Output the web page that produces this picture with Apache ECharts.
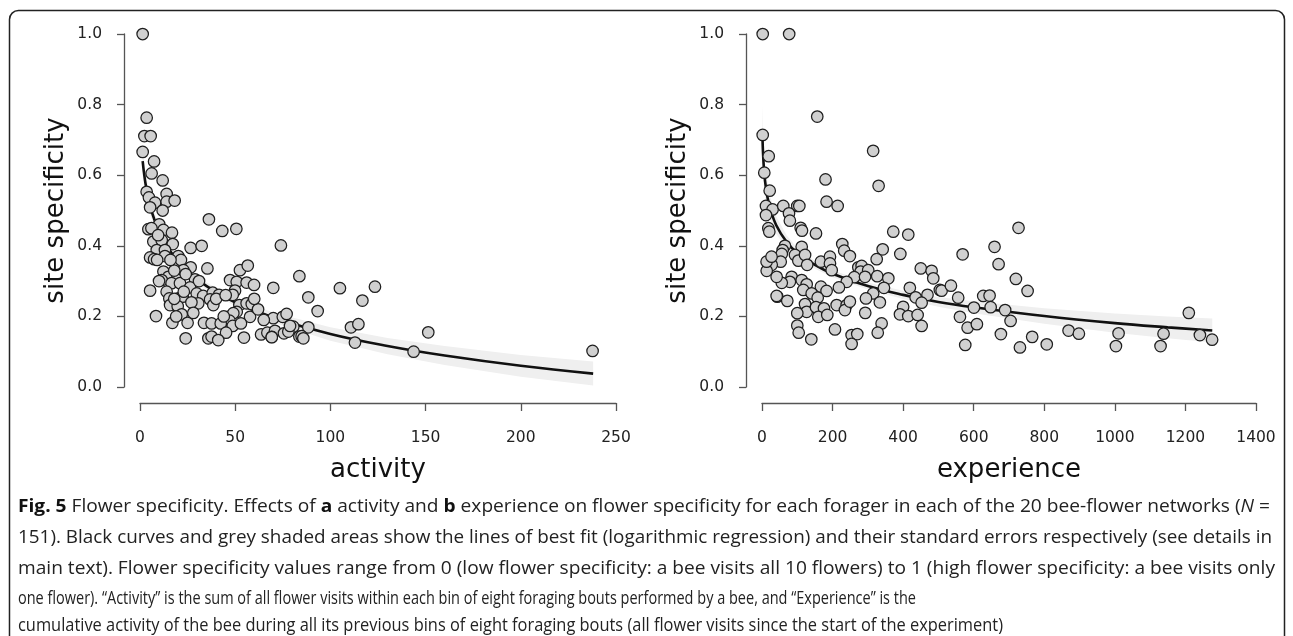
<!DOCTYPE html>
<html><head><meta charset="utf-8">
<script src="https://cdn.jsdelivr.net/npm/echarts@6/dist/echarts.min.js"></script>
<style>html,body{margin:0;padding:0;background:#fff}#c{width:1293px;height:636px}</style>
</head><body><div id="c"></div>
<script>
// ---------- data ----------
const activityPoints = [
 [1.4,1.0],[3.5,0.763],[2.3,0.711],[5.6,0.711],[1.4,0.666],[7.4,0.639],[6.1,0.605],[11.9,0.585],
 [3.5,0.553],[4.7,0.537],[14,0.547],[7.9,0.522],[14,0.525],[18.2,0.528],[5.3,0.509],[11.9,0.5],
 [36.2,0.475],[4.4,0.447],[10.1,0.461],[12.3,0.445],[16.8,0.437],[43.2,0.442],[50.6,0.448],[7,0.412],
 [11.4,0.416],[17.2,0.405],[26.6,0.394],[32.4,0.4],[74,0.401],[8.8,0.388],[13.1,0.388],[5.3,0.367],
 [7.4,0.362],[13.1,0.371],[20.1,0.371],[21.5,0.36],[26.6,0.339],[35.4,0.336],[52.5,0.331],[56.6,0.344],
 [83.7,0.314],[12.3,0.327],[14.9,0.312],[19.6,0.308],[22.8,0.331],[11.4,0.303],[16.6,0.294],[21,0.294],
 [28.9,0.305],[47.3,0.303],[50.8,0.298],[56,0.296],[59.9,0.289],[5.3,0.273],[14,0.27],[26.3,0.282],
 [29.8,0.265],[33.2,0.258],[38.2,0.267],[41.5,0.261],[49.9,0.273],[48.7,0.261],[70,0.281],[15.4,0.251],
 [20.1,0.251],[22.4,0.256],[36.8,0.248],[15.8,0.232],[19.8,0.229],[30.6,0.237],[38.5,0.232],[52.2,0.232],
 [56,0.237],[50.8,0.213],[21.9,0.206],[46.4,0.199],[49,0.209],[57.8,0.199],[70,0.195],[75,0.199],
 [77,0.207],[8.4,0.201],[47,0.188],[17,0.182],[25,0.182],[33.6,0.182],[37.6,0.18],[42.4,0.18],
 [48.7,0.173],[80.5,0.171],[45.2,0.154],[63.6,0.149],[66.9,0.154],[70.9,0.159],[75.6,0.152],[77.9,0.157],
 [83.7,0.143],[24,0.138],[35.9,0.138],[37.6,0.143],[41.1,0.133],[54.6,0.14],[69.2,0.142],[88.4,0.254],
 [93.3,0.215],[105,0.28],[123.4,0.284],[116.8,0.245],[58.7,0.235],[78.8,0.173],[88.4,0.169],[110.8,0.169],
 [114.7,0.178],[151.4,0.155],[69.2,0.141],[84.9,0.144],[85.8,0.138],[112.9,0.126],[143.7,0.1],[237.7,0.102],
 [9,0.36],[18,0.33],[24,0.32],[18,0.25],[27,0.24],[31,0.3],[44,0.2],[62,0.22],[65,0.19],[40,0.25],
 [53,0.18],[6,0.45],[9.5,0.43],[16,0.36],[23,0.27],[60,0.25],[45,0.26],[10,0.3],[19,0.2],[28,0.21]
];
const experiencePoints = [
 [2,1.0],[77,1.0],[156.6,0.766],[2,0.714],[315,0.669],[19,0.654],[6.5,0.607],[180,0.588],[330.5,0.57],
 [21.8,0.556],[183,0.525],[11.3,0.513],[30,0.503],[11.3,0.487],[60.3,0.513],[100,0.513],[105.8,0.513],
 [214.4,0.513],[76.5,0.492],[79,0.471],[18,0.45],[20.7,0.44],[109.6,0.451],[113.3,0.443],[153,0.435],
 [372,0.44],[414.5,0.432],[227.5,0.405],[233,0.386],[249,0.371],[65,0.4],[58.6,0.388],[56,0.377],
 [112.5,0.397],[93.5,0.374],[103,0.358],[122,0.374],[342,0.39],[392,0.377],[325,0.362],[53,0.355],
 [27.5,0.346],[13.3,0.329],[128,0.346],[167,0.355],[192.6,0.369],[192.6,0.35],[197.5,0.331],[273,0.339],
 [282.4,0.343],[279.6,0.327],[301,0.331],[450,0.336],[480.7,0.329],[485.4,0.308],[326.6,0.314],[358,0.308],
 [84,0.312],[79,0.298],[112.5,0.303],[56,0.295],[261.5,0.311],[240,0.298],[292,0.312],[126.6,0.291],
 [117,0.275],[167,0.284],[183,0.272],[218,0.282],[345.6,0.281],[419,0.281],[504,0.275],[140.8,0.265],
 [157.8,0.253],[315,0.265],[469,0.261],[435.4,0.254],[43.3,0.256],[71.7,0.244],[294.6,0.251],[334,0.24],
 [452.4,0.239],[122,0.235],[126.6,0.213],[153,0.226],[175.6,0.223],[211.6,0.232],[240,0.232],[235,0.218],
 [249,0.242],[400,0.227],[100,0.209],[159.5,0.199],[185,0.204],[292.6,0.21],[391,0.206],[414.5,0.201],
 [441,0.204],[100,0.174],[104,0.154],[339,0.18],[328,0.154],[452.4,0.173],[206.8,0.163],[254,0.147],
 [270,0.15],[139.7,0.135],[254,0.122],[568.6,0.376],[659,0.397],[727,0.451],[670.5,0.348],[719.5,0.306],
 [752.7,0.272],[509,0.273],[535.4,0.287],[556,0.253],[627,0.258],[645,0.259],[600.6,0.225],[648,0.226],
 [689,0.218],[561,0.199],[704.5,0.187],[582.7,0.168],[609,0.178],[677,0.15],[765.7,0.142],[576,0.119],
 [731,0.112],[807,0.121],[868.8,0.16],[898,0.151],[1010.5,0.152],[1003,0.116],[1138,0.151],[1129.5,0.116],
 [1209.6,0.21],[1241,0.147],[1275.6,0.134],[41.5,0.312],[41.5,0.258],[13,0.355],[27,0.369]
];
const activityFitX    = [1.4,2,3,5,8,12,18,25,35,50,70,100,130,160,200,238];
const activityFitY    = [0.640,0.611,0.573,0.520,0.467,0.419,0.369,0.328,0.286,0.240,0.197,0.150,0.116,0.089,0.060,0.038];
const activityBandLow = [0.600,0.575,0.542,0.495,0.447,0.403,0.356,0.317,0.276,0.229,0.183,0.131,0.093,0.062,0.029,0.004];
const activityBandHigh= [0.680,0.647,0.604,0.545,0.487,0.435,0.382,0.339,0.296,0.251,0.211,0.169,0.139,0.116,0.091,0.072];
const experienceFitX    = [1,3,6,10,20,40,70,100,150,200,300,400,500,600,800,1000,1150,1276];
const experienceFitY    = [0.721,0.661,0.612,0.573,0.517,0.459,0.411,0.380,0.346,0.321,0.286,0.261,0.241,0.226,0.201,0.181,0.169,0.160];
const experienceBandLow = [0.641,0.599,0.560,0.529,0.483,0.434,0.393,0.366,0.335,0.311,0.276,0.249,0.227,0.209,0.179,0.154,0.138,0.126];
const experienceBandHigh= [0.801,0.723,0.664,0.617,0.551,0.484,0.429,0.394,0.357,0.331,0.296,0.273,0.255,0.243,0.223,0.208,0.200,0.194];
const activityTicks = {min:0, max:250, interval:50};
const experienceTicks = {min:0, max:1400, interval:200};
const yTicks = {min:0, max:1, interval:0.2};
const xTitles = ['activity','experience'];
const yTitle = 'site specificity';
const captionLines = [
 [['b','Fig. 5'],['n',' Flower specificity. Effects of '],['b','a'],['n',' activity and '],['b','b'],['n',' experience on flower specificity for each forager in each of the 20 bee-flower networks ('],['i','N'],['n',' =']],
 [['n','151). Black curves and grey shaded areas show the lines of best fit (logarithmic regression) and their standard errors respectively (see details in']],
 [['n','main text). Flower specificity values range from 0 (low flower specificity: a bee visits all 10 flowers) to 1 (high flower specificity: a bee visits only']],
 [['n','one flower). \u201cActivity\u201d is the sum of all flower visits within each bin of eight foraging bouts performed by a bee, and \u201cExperience\u201d is the']],
 [['n','cumulative activity of the bee during all its previous bins of eight foraging bouts (all flower visits since the start of the experiment)']]
];

// ---------- layout ----------
const AX_FONT = 'DejaVu Sans';
const CAP_FONT = 'Open Sans';
const CAP_SIZE = 18.5;
const capY = [507, 538, 569, 599, 626];
const capW = [1252, 1254, 1257, 898, 985];

const chart = echarts.init(document.getElementById('c'), null, {renderer:'canvas'});

function xAxisCfg(gi, t, name){
  return {gridIndex:gi, type:'value', min:t.min, max:t.max, interval:t.interval, offset:16,
    axisLine:{show:true, onZero:false, lineStyle:{color:'#555', width:1.3}},
    axisTick:{show:true, length:8, lineStyle:{color:'#555', width:1.3}},
    axisLabel:{fontFamily:AX_FONT, fontSize:15.5, color:'#222', margin:27, formatter:v=>String(v)},
    splitLine:{show:false},
    name:name, nameLocation:'middle', nameGap:54,
    nameTextStyle:{fontFamily:AX_FONT, fontSize:26, color:'#111'}};
}
function yAxisCfg(gi){
  return {gridIndex:gi, type:'value', min:yTicks.min, max:yTicks.max, interval:yTicks.interval, offset:16,
    axisLine:{show:true, onZero:false, lineStyle:{color:'#555', width:1.3}},
    axisTick:{show:true, length:7, lineStyle:{color:'#555', width:1.3}},
    axisLabel:{fontFamily:AX_FONT, fontSize:15.5, color:'#222', margin:22, formatter:v=>v.toFixed(1)},
    splitLine:{show:false},
    name:yTitle, nameLocation:'middle', nameGap:55,
    nameTextStyle:{fontFamily:AX_FONT, fontSize:26, color:'#111'}};
}
function bandSeries(i, fx, lo, hi){
  return {type:'custom', xAxisIndex:i, yAxisIndex:i, silent:true, z:1, clip:true,
    data: fx.map((x,k)=>[x, lo[k], hi[k]]),
    encode:{x:0, y:[1,2]},
    renderItem:function(params, api){
      if (params.dataIndex !== 0) return null;
      const pts=[];
      for (let k=0;k<fx.length;k++) pts.push(api.coord([fx[k], hi[k]]));
      for (let k=fx.length-1;k>=0;k--) pts.push(api.coord([fx[k], lo[k]]));
      return {type:'polygon', shape:{points:pts}, style:{fill:'#efefef', stroke:null}};
    }};
}
function fitSeries(i, fx, fy){
  return {type:'line', xAxisIndex:i, yAxisIndex:i, data:fx.map((x,k)=>[x, fy[k]]),
    smooth:0.4, showSymbol:false, silent:true, z:2,
    lineStyle:{color:'#111', width:2.6}};
}
function scatterSeries(i, pts){
  return {type:'scatter', xAxisIndex:i, yAxisIndex:i, data:pts, symbolSize:11.5, clip:false, z:3,
    itemStyle:{color:'#d0d0d0', borderColor:'#1e1e1e', borderWidth:1.25, opacity:1}};
}

// caption
const mctx = document.createElement('canvas').getContext('2d');
function fontFor(kind){
  return (kind==='i'?'italic ':'') + (kind==='b'?'bold ':'') + CAP_SIZE + 'px "' + CAP_FONT + '"';
}
const rich = {
  n:{fontFamily:CAP_FONT, fontSize:CAP_SIZE, fill:'#222', color:'#222'},
  b:{fontFamily:CAP_FONT, fontSize:CAP_SIZE, fontWeight:'bold', fill:'#111', color:'#111'},
  i:{fontFamily:CAP_FONT, fontSize:CAP_SIZE, fontStyle:'italic', fill:'#222', color:'#222'}
};
const captionGraphics = captionLines.map((segs, li)=>{
  let w = 0, txt = '';
  segs.forEach(([k,t])=>{ mctx.font = fontFor(k); w += mctx.measureText(t).width; txt += '{'+k+'|'+t+'}'; });
  return {type:'group', x:18, y:capY[li], scaleX: capW[li]/w, scaleY:1,
    children:[{type:'text', style:{text:txt, rich:rich, fontFamily:CAP_FONT, fontSize:CAP_SIZE, fill:'#222', align:'left', verticalAlign:'middle'}}]};
});

const option = {
  animation:false,
  backgroundColor:'#ffffff',
  grid:[
    {left:140, right:1293-616, top:34, bottom:636-387},
    {left:762, right:1293-1256, top:34, bottom:636-387}
  ],
  xAxis:[xAxisCfg(0, activityTicks, xTitles[0]), xAxisCfg(1, experienceTicks, xTitles[1])],
  yAxis:[yAxisCfg(0), yAxisCfg(1)],
  series:[
    bandSeries(0, activityFitX, activityBandLow, activityBandHigh),
    fitSeries(0, activityFitX, activityFitY),
    scatterSeries(0, activityPoints),
    bandSeries(1, experienceFitX, experienceBandLow, experienceBandHigh),
    fitSeries(1, experienceFitX, experienceFitY),
    scatterSeries(1, experiencePoints)
  ],
  graphic:[
    {type:'rect', shape:{x:9.5, y:10.5, width:1275, height:700, r:9}, style:{fill:'none', stroke:'#222', lineWidth:1.5}, z:-1, silent:true}
  ].concat(captionGraphics)
};
chart.setOption(option);
</script>
</body></html>
